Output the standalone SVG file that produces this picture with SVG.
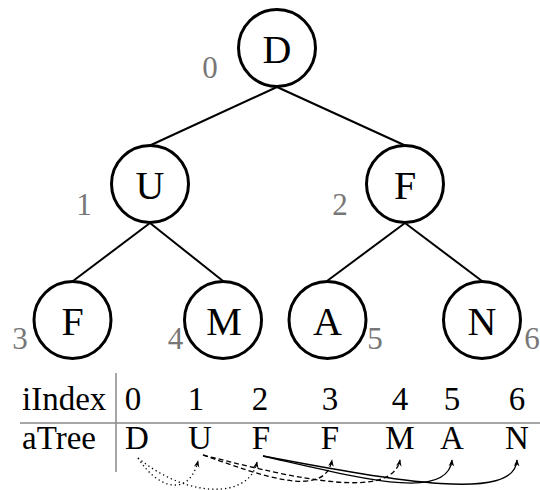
<svg xmlns="http://www.w3.org/2000/svg" width="540" height="490" viewBox="0 0 540 490">
<style>
.node circle{fill:#fff;stroke:#000;stroke-width:3}
.node text{font-family:"Liberation Serif","Times New Roman",serif;font-size:40px;text-anchor:middle;fill:#000}
.idx{font-family:"Liberation Serif","Times New Roman",serif;font-size:31px;text-anchor:middle;fill:#777}
.edge{stroke:#000;stroke-width:2;fill:none}
.tbl{font-family:"Liberation Serif","Times New Roman",serif;font-size:33px;fill:#000}
.tc{text-anchor:middle}
.grid{stroke:#888;stroke-width:1.5}
.dot{stroke:#000;stroke-width:1.3;fill:none;stroke-dasharray:1.3 3}
.dash{stroke:#000;stroke-width:1.3;fill:none;stroke-dasharray:5 3}
.sol{stroke:#000;stroke-width:1.3;fill:none}
</style>
<defs>
<marker id="ah" viewBox="0 0 10 10" refX="9" refY="5" markerWidth="7" markerHeight="7" markerUnits="userSpaceOnUse" orient="auto">
<path d="M0,1 L10,5 L0,9 L3,5 Z" fill="#000"/>
</marker>
</defs>
<g id="edges">
<line class="edge" x1="277" y1="87" x2="151" y2="145"/>
<line class="edge" x1="277" y1="87" x2="404" y2="145"/>
<line class="edge" x1="150" y1="223" x2="73" y2="281"/>
<line class="edge" x1="150" y1="223" x2="223" y2="281"/>
<line class="edge" x1="405" y1="223" x2="327" y2="281"/>
<line class="edge" x1="405" y1="223" x2="482" y2="281"/>
</g>
<g id="n0" class="node"><circle cx="277" cy="48" r="38.5"/><text x="277" y="63">D</text></g>
<g id="n1" class="node"><circle cx="150" cy="184" r="38.5"/><text x="150" y="199">U</text></g>
<g id="n2" class="node"><circle cx="405" cy="184" r="38.5"/><text x="405" y="199">F</text></g>
<g id="n3" class="node"><circle cx="72.5" cy="320" r="38.5"/><text x="72.5" y="335">F</text></g>
<g id="n4" class="node"><circle cx="223" cy="320" r="38.5"/><text x="224" y="335">M</text></g>
<g id="n5" class="node"><circle cx="327.5" cy="320" r="38.5"/><text x="327.5" y="335">A</text></g>
<g id="n6" class="node"><circle cx="482" cy="320" r="38.5"/><text x="482" y="335">N</text></g>
<g id="indices">
<text class="idx" x="210" y="78">0</text>
<text class="idx" x="84" y="215">1</text>
<text class="idx" x="340" y="215">2</text>
<text class="idx" x="20" y="349">3</text>
<text class="idx" x="175.5" y="349">4</text>
<text class="idx" x="375" y="349">5</text>
<text class="idx" x="532" y="349">6</text>
</g>
<g id="table">
<line class="grid" x1="116" y1="373" x2="116" y2="472"/>
<line class="grid" x1="20" y1="423" x2="540" y2="423"/>
<text class="tbl" x="22" y="410">iIndex</text>
<text class="tbl" x="22" y="449">aTree</text>
<g class="tbl tc">
<text x="133" y="410">0</text>
<text x="196" y="410">1</text>
<text x="260" y="410">2</text>
<text x="330" y="410">3</text>
<text x="400" y="410">4</text>
<text x="452" y="410">5</text>
<text x="517" y="410">6</text>
<text x="137" y="449">D</text>
<text x="200" y="449">U</text>
<text x="261" y="449">F</text>
<text x="330" y="449">F</text>
<text x="400" y="449">M</text>
<text x="452" y="449">A</text>
<text x="517" y="449">N</text>
</g>
</g>
<g id="connectors">
<path class="dot" d="M138,458 C160,492 190,495 198,461" marker-end="url(#ah)"/>
<path class="dot" d="M138,458 C190,500 250,498 257,462" marker-end="url(#ah)"/>
<path class="dash" d="M203,455 C260,475 325,500 332,460" marker-end="url(#ah)"/>
<path class="dash" d="M203,455 C300,480 392,500 400,460" marker-end="url(#ah)"/>
<path class="sol" d="M263,456 C360,478 448,502 452,460" marker-end="url(#ah)"/>
<path class="sol" d="M263,456 C400,482 515,502 517,460" marker-end="url(#ah)"/>
</g>
</svg>
